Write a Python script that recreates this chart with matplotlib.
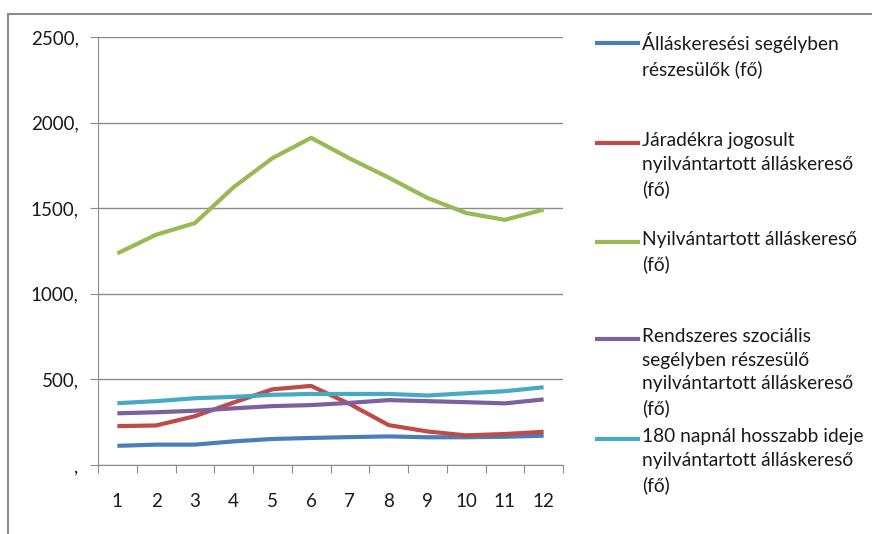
import matplotlib.pyplot as plt
from matplotlib.lines import Line2D

months = list(range(1, 13))

allaskeresesi = [112, 119, 119, 138, 152, 158, 163, 167, 162, 162, 165, 171]
jaradekra = [227, 231, 285, 365, 442, 462, 356, 233, 196, 173, 181, 194]
nyilvantartott = [1236, 1345, 1413, 1623, 1792, 1911, 1790, 1679, 1560, 1472, 1432, 1492]
rendszeres = [302, 308, 317, 331, 344, 350, 363, 379, 373, 367, 360, 383]
napnal_180 = [361, 373, 390, 398, 410, 415, 415, 415, 406, 419, 431, 454]

labels = [
    "Álláskeresési segélyben\nrészesülők (fő)",
    "Járadékra jogosult\nnyilvántartott álláskereső\n(fő)",
    "Nyilvántartott álláskereső\n(fő)",
    "Rendszeres szociális\nsegélyben részesülő\nnyilvántartott álláskereső\n(fő)",
    "180 napnál hosszabb ideje\nnyilvántartott álláskereső\n(fő)",
]
colors = ["#4A7EBB", "#BE4B48", "#98B954", "#7D60A0", "#46AAC5"]
series = [allaskeresesi, jaradekra, nyilvantartott, rendszeres, napnal_180]

yticks = [0, 500, 1000, 1500, 2000, 2500]
ytick_labels = [",", "500,", "1000,", "1500,", "2000,", "2500,"]

plt.rcParams['font.family'] = ['Lato', 'DejaVu Sans']

W, H = 872, 534
fig = plt.figure(figsize=(W / 100, H / 100), dpi=100)

# outer chart frame
fig.patches.append(plt.Rectangle((8 / W, -0.01), 1.0, 1 - 14 / H + 0.01, transform=fig.transFigure,
                                 fill=False, edgecolor="#8c8c8c", linewidth=1.5))

ax = fig.add_axes([98 / W, 1 - 465 / H, (563 - 98) / W, (465 - 37) / H])

for vals, c in zip(series, colors):
    ax.plot(months, vals, color=c, linewidth=3, solid_capstyle='butt')

ax.set_xlim(0.5, 12.5)
ax.set_ylim(0, 2500)
ax.set_yticks(yticks)
ax.set_yticklabels(ytick_labels)
ax.yaxis.grid(True, color="#8c8c8c", linewidth=1)
ax.set_axisbelow(True)

ax.set_xticks([m + 0.5 for m in [0] + months])
ax.set_xticklabels([])
ax.set_xticks(months, minor=True)
ax.set_xticklabels([str(m) for m in months], minor=True)
ax.tick_params(axis='x', which='major', length=6, color="#8c8c8c", direction='out')
ax.tick_params(axis='x', which='minor', length=0, pad=20, labelsize=13.5, labelcolor="#1a1a1a")
ax.tick_params(axis='y', length=6, color="#8c8c8c", pad=8, labelsize=13.5, labelcolor="#1a1a1a")

for s in ['top', 'right']:
    ax.spines[s].set_visible(False)
for s in ['left', 'bottom']:
    ax.spines[s].set_color("#8c8c8c")

# legend drawn as figure text
legend_y = [43, 143, 242, 339, 439]
for lab, c, y in zip(labels, colors, legend_y):
    fig.add_artist(Line2D([597 / W, 638 / W], [1 - y / H, 1 - y / H], color=c, linewidth=3,
                          transform=fig.transFigure))
    fig.text(642 / W, 1 - (y - 11) / H, lab, fontsize=13.8, va='top', ha='left',
             color="#1a1a1a", linespacing=1.48)

fig.savefig("out.png", dpi=100)
